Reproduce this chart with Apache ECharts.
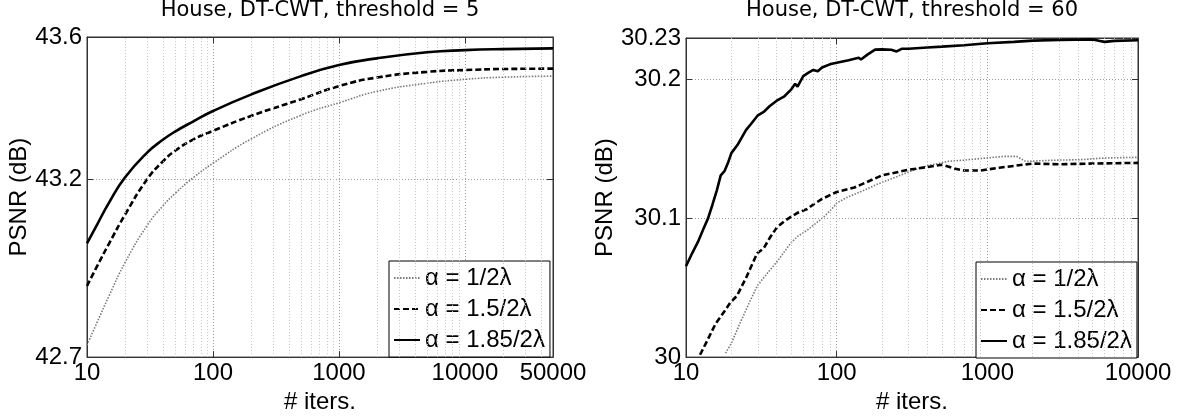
<!DOCTYPE html>
<html>
<head>
<meta charset="utf-8">
<script src="https://cdn.jsdelivr.net/npm/echarts@6/dist/echarts.min.js"></script>
<style>
html,body{margin:0;padding:0;background:#fff;}
#chart{width:1181px;height:419px;}
</style>
</head>
<body>
<div id="chart"></div>
<script>
// ---------- data ----------
const seriesNames = ['\u03b1 = 1/2\u03bb', '\u03b1 = 1.5/2\u03bb', '\u03b1 = 1.85/2\u03bb'];
const panelTitles = ['House, DT-CWT, threshold = 5', 'House, DT-CWT, threshold = 60'];

// left panel (threshold = 5)
const leftIters    = [10, 12, 15, 20, 30, 40, 50, 70, 100, 200, 500, 1000, 2000, 5000, 10000, 20000, 50000];
const leftAlpha1   = [42.734, 42.797, 42.873, 42.965, 43.070, 43.125, 43.160, 43.205, 43.245, 43.313, 43.380, 43.415, 43.447, 43.470, 43.481, 43.487, 43.490];
const leftAlpha15  = [42.900, 42.955, 43.020, 43.100, 43.200, 43.250, 43.280, 43.312, 43.336, 43.378, 43.425, 43.462, 43.486, 43.502, 43.507, 43.510, 43.511];
const leftAlpha185 = [43.020, 43.072, 43.135, 43.205, 43.275, 43.311, 43.334, 43.363, 43.392, 43.438, 43.490, 43.521, 43.540, 43.557, 43.563, 43.566, 43.568];

// right panel (threshold = 60)
const rightItersA1 = [18.3, 20, 23, 26, 29.7, 35, 40.3, 45, 49.4, 55, 63.8, 70, 82, 95, 100, 117, 150, 185, 250, 310, 400, 553, 700, 985, 1300, 1563, 1800, 2200, 3000, 4170, 6000, 10000];
const rightAlpha1  = [30.0028, 30.010, 30.0252, 30.038, 30.0513, 30.061, 30.069, 30.076, 30.082, 30.087, 30.0915, 30.095, 30.1009, 30.108, 30.111, 30.1151, 30.120, 30.1245, 30.130, 30.134, 30.138, 30.1411, 30.142, 30.1435, 30.1447, 30.1447, 30.141, 30.1415, 30.142, 30.1423, 30.1435, 30.144];
const rightItersA15 = [12.4, 14, 15.7, 18, 19.7, 21.8, 25, 29.7, 32.8, 36, 40.3, 45, 49.4, 55, 63.8, 70, 80, 100, 131, 200, 300, 400, 500, 600, 700, 900, 1200, 2000, 3000, 5000, 10000];
const rightAlpha15  = [30.0017, 30.013, 30.024, 30.033, 30.0394, 30.0442, 30.057, 30.0749, 30.0784, 30.086, 30.0938, 30.098, 30.1009, 30.104, 30.1068, 30.110, 30.114, 30.119, 30.1222, 30.131, 30.135, 30.137, 30.1387, 30.136, 30.1345, 30.1345, 30.1365, 30.1395, 30.139, 30.1395, 30.140];
const rightItersA185 = [10, 11, 12, 13, 14, 15, 16, 17, 18, 19, 20, 22, 25, 27, 30, 33, 36, 40, 45, 50, 53, 55, 60, 65, 70, 75, 80, 90, 100, 120, 140, 145, 160, 180, 200, 230, 250, 270, 300, 400, 500, 700, 1000, 1500, 2000, 3000, 5000, 5500, 6000, 7000, 10000];
const rightAlpha185  = [30.0655, 30.075, 30.083, 30.092, 30.100, 30.110, 30.120, 30.131, 30.134, 30.140, 30.147, 30.153, 30.1636, 30.168, 30.1743, 30.177, 30.181, 30.1848, 30.188, 30.193, 30.197, 30.195, 30.2025, 30.205, 30.207, 30.206, 30.2087, 30.211, 30.2122, 30.214, 30.2158, 30.2145, 30.218, 30.2216, 30.2218, 30.2215, 30.2203, 30.2222, 30.2222, 30.2232, 30.2238, 30.2248, 30.2262, 30.2272, 30.2281, 30.2286, 30.2290, 30.2280, 30.2272, 30.2279, 30.2284];

// axis ranges / ticks
const leftX = {min: 10, max: 50000};
const leftY = {min: 42.7, max: 43.6, interval: 0.5};
const rightX = {min: 10, max: 10000};
const rightY = {min: 30, max: 30.23, interval: 0.1};
const minorMultipliers = [2, 3, 4, 5, 6, 7, 8, 9];
const decades = [10, 100, 1000, 10000];

function minorGrid(maxV) {
  const out = [];
  decades.forEach(d => minorMultipliers.forEach(m => { const v = d * m; if (v < maxV) out.push({xAxis: v}); }));
  return out;
}
function pairs(xs, ys) { return xs.map((x, i) => [x, ys[i]]); }

// ---------- styles ----------
const FONT = 'Liberation Sans';
const lineStyles = [
  {color: '#7a7a7a', width: 1.6, type: [1.5, 1.5]},
  {color: '#000', width: 2.6, type: [6, 3]},
  {color: '#000', width: 2.6, type: 'solid'}
];
const grids = [
  {left: 87, top: 37, width: 466, height: 325, show: true, borderColor: '#333', borderWidth: 1, backgroundColor: '#fff'},
  {left: 686, top: 38, width: 452, height: 324, show: true, borderColor: '#333', borderWidth: 1, backgroundColor: '#fff'}
];
const gridDotted = {type: [1, 2], color: '#9a9a9a', width: 1};
const minorDotted = {type: [1, 2], color: '#c4c4c4', width: 1};

function xAxes(gi, rng) {
  return [
    {type: 'log', logBase: 10, gridIndex: gi, min: rng.min, max: rng.max, position: 'bottom',
     name: '# iters.', nameLocation: 'middle', nameGap: 26,
     nameTextStyle: {fontFamily: FONT, fontSize: 24, color: '#000'},
     axisLine: {show: true, lineStyle: {color: '#333', width: 1}},
     axisTick: {show: true, inside: true, length: 6, lineStyle: {color: '#333'}},
     axisLabel: {show: true, margin: 4, fontFamily: FONT, fontSize: 24, color: '#000',
       showMinLabel: true, showMaxLabel: true,
       formatter: v => String(Math.round(v))},
     splitLine: {show: true, lineStyle: gridDotted}},
    {type: 'log', logBase: 10, gridIndex: gi, min: rng.min, max: rng.max, position: 'top',
     axisLine: {show: true, lineStyle: {color: '#333', width: 1}},
     axisTick: {show: true, inside: true, length: 6, lineStyle: {color: '#333'}},
     axisLabel: {show: false}, splitLine: {show: false}}
  ];
}
function yAxes(gi, rng, gap) {
  return [
    {type: 'value', gridIndex: gi, min: rng.min, max: rng.max, interval: rng.interval, position: 'left',
     name: 'PSNR (dB)', nameLocation: 'middle', nameGap: gap, nameRotate: 90,
     nameTextStyle: {fontFamily: FONT, fontSize: 24, color: '#000'},
     axisLine: {show: true, lineStyle: {color: '#333', width: 1}},
     axisTick: {show: true, inside: true, length: 6, lineStyle: {color: '#333'}},
     axisLabel: {show: true, margin: 5, fontFamily: FONT, fontSize: 24, color: '#000',
       showMinLabel: true, showMaxLabel: true},
     splitLine: {show: true, lineStyle: gridDotted}},
    {type: 'value', gridIndex: gi, min: rng.min, max: rng.max, interval: rng.interval, position: 'right',
     axisLine: {show: true, lineStyle: {color: '#333', width: 1}},
     axisTick: {show: true, inside: true, length: 6, lineStyle: {color: '#333'}},
     axisLabel: {show: false}, splitLine: {show: false}}
  ];
}

const xAxis = xAxes(0, leftX).concat(xAxes(1, rightX));
const yAxis = yAxes(0, leftY, 52).concat(yAxes(1, rightY, 63));

function curve(name, idx, xi, yi, data, smooth) {
  return {type: 'line', name: name, xAxisIndex: xi, yAxisIndex: yi, data: data,
    showSymbol: false, symbol: 'none', smooth: smooth, animation: false,
    lineStyle: lineStyles[idx], itemStyle: {color: lineStyles[idx].color}, z: 3 + idx};
}
function gridSeries(xi, yi, maxV) {
  return {type: 'line', name: '_grid' + xi, xAxisIndex: xi, yAxisIndex: yi, data: [], silent: true, z: 1,
    markLine: {silent: true, symbol: 'none', animation: false, label: {show: false},
      lineStyle: minorDotted, data: minorGrid(maxV)}};
}

const series = [
  gridSeries(0, 0, leftX.max),
  curve(seriesNames[0], 0, 0, 0, pairs(leftIters, leftAlpha1), 0.5),
  curve(seriesNames[1], 1, 0, 0, pairs(leftIters, leftAlpha15), 0.5),
  curve(seriesNames[2], 2, 0, 0, pairs(leftIters, leftAlpha185), 0.5),
  gridSeries(2, 2, rightX.max),
  curve(seriesNames[0], 0, 2, 2, pairs(rightItersA1, rightAlpha1), false),
  curve(seriesNames[1], 1, 2, 2, pairs(rightItersA15, rightAlpha15), false),
  curve(seriesNames[2], 2, 2, 2, pairs(rightItersA185, rightAlpha185), false)
];

function legendAt(left, top) {
  return {data: seriesNames, orient: 'vertical', left: left, top: top,
    backgroundColor: '#fff', borderColor: '#000', borderWidth: 1, borderRadius: 0,
    padding: [5, 5, 5, 4], itemGap: 7, itemWidth: 26, itemHeight: 14,
    selectedMode: false,
    itemStyle: {opacity: 0},
    textStyle: {fontFamily: FONT, fontSize: 24, color: '#000'}};
}

const option = {
  backgroundColor: '#fff',
  animation: false,
  title: [
    {text: panelTitles[0], left: 320, top: 0, textAlign: 'center', padding: 0,
     textStyle: {fontFamily: 'DejaVu Sans', fontSize: 21, fontWeight: 'normal', color: '#000'}},
    {text: panelTitles[1], left: 912, top: 0, textAlign: 'center', padding: 0,
     textStyle: {fontFamily: 'DejaVu Sans', fontSize: 21, fontWeight: 'normal', color: '#000'}}
  ],
  grid: grids,
  xAxis: xAxis,
  yAxis: yAxis,
  legend: [legendAt(389, 261), legendAt(976, 262)],
  series: series
};

const chart = echarts.init(document.getElementById('chart'), null, {renderer: 'canvas'});
chart.setOption(option);
</script>
</body>
</html>
